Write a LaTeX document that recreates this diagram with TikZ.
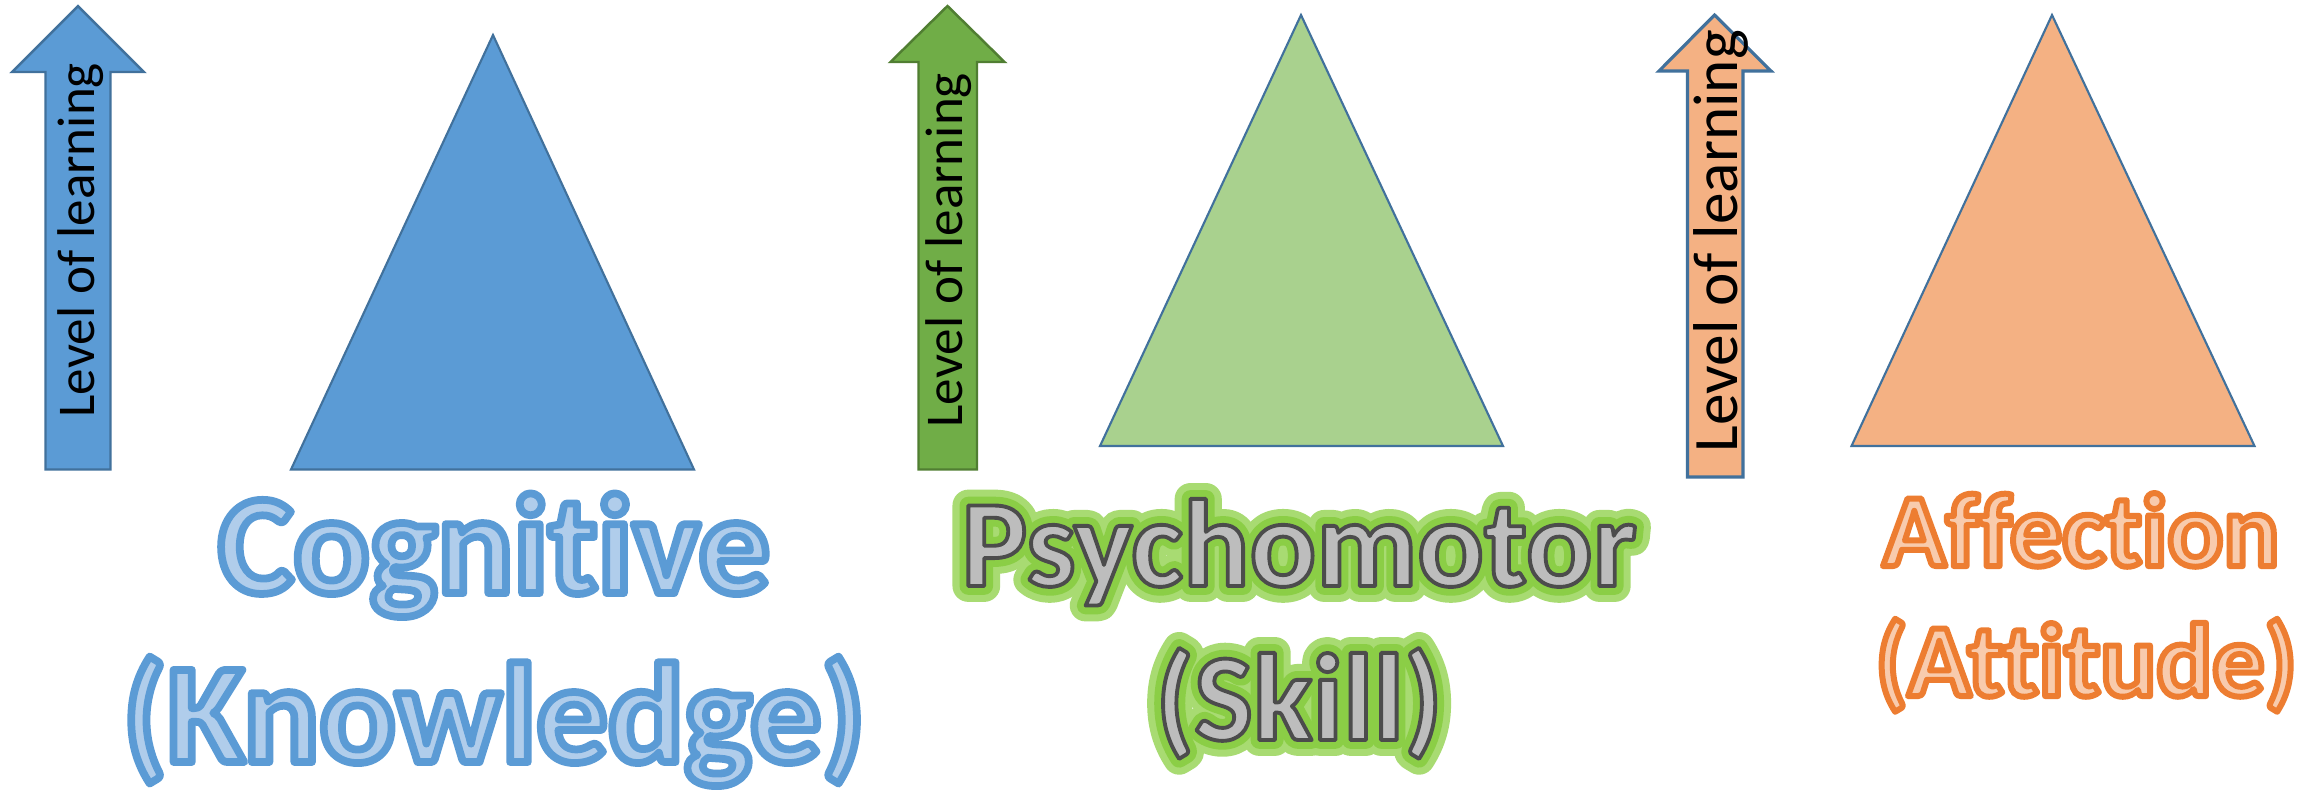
\documentclass[tikz,border=0pt]{standalone}
\usepackage{fontspec}
\setmainfont{Carlito}[Ligatures={NoCommon}]
\definecolor{cblue}{HTML}{5B9BD5}
\definecolor{cgreen}{HTML}{A9D18E}
\definecolor{corange}{HTML}{F4B183}
\definecolor{agreen}{HTML}{70AD47}
\definecolor{agreenline}{HTML}{507E32}
\definecolor{triline}{HTML}{41719C}
\definecolor{cogfill}{HTML}{B0CDEB}
\definecolor{psyfill}{HTML}{BDBDBD}
\definecolor{afffill}{HTML}{F8CBAD}
% text drawn with fill colour #1 and an outline (stroke rgb #2, width #3 bp)
\newcommand{\outlinetext}[4]{{\color{#1}\special{pdf:literal direct #2 RG #3 w 1 j 2 Tr}#4\special{pdf:literal direct 0 Tr}}}
% text drawn as stroke only (for the glow)
\newcommand{\glowtext}[3]{{\special{pdf:literal direct #1 RG #2 w 1 j 1 Tr}#3\special{pdf:literal direct 0 Tr}}}
\begin{document}
\begin{tikzpicture}[x=0.01cm,y=-0.01cm,
  tri/.style={draw=triline, line width=0.6pt, line join=miter},
  arrowshape/.style={line width=0.7pt, line join=miter},
  lvl/.style={rotate=90, anchor=base west, inner sep=0pt, text=black},
  lab/.style={anchor=base, inner sep=0pt}]
\useasboundingbox (0,0) rectangle (2315,793);
\fill[white] (0,0) rectangle (2315,793);

% triangles
\draw[tri, fill=cblue]   (493,35)   -- (694,469.5)  -- (291,469.5)  -- cycle;
\draw[tri, fill=cgreen]  (1301,15)  -- (1503,446)   -- (1100,446)   -- cycle;
\draw[tri, fill=corange] (2052,15)  -- (2254.5,446) -- (1851.5,446) -- cycle;

% arrows
\draw[arrowshape, draw=triline, fill=cblue]
  (78,6) -- (144,72) -- (110.5,72) -- (110.5,469.5) -- (45.5,469.5) -- (45.5,72) -- (12,72) -- cycle;
\draw[arrowshape, draw=agreenline, fill=agreen]
  (947.5,6) -- (1004.5,62) -- (977,62) -- (977,469.5) -- (918.5,469.5) -- (918.5,62) -- (890.5,62) -- cycle;
\draw[arrowshape, draw=triline, fill=corange, line width=0.9pt]
  (1714.5,15) -- (1771,71) -- (1743,71) -- (1743,477) -- (1687.5,477) -- (1687.5,71) -- (1659,71) -- cycle;

% arrow texts
\node[lvl, font=\fontsize{15.1}{18}\selectfont] (lv1) at (94,418)  {Level of learning};
\node[lvl, font=\fontsize{15.1}{18}\selectfont] (lv2) at (962,428) {Level of learning};
\node[lvl, font=\fontsize{18}{22}\selectfont]   (lv3) at (1737,453) {Level of learning};

% labels
\node[lab, font=\bfseries\fontsize{40.4}{48}\selectfont] (cog1) at (494,593)
  {\outlinetext{cogfill}{0.357 0.608 0.835}{2.2}{Cognitive}};
\node[lab, font=\bfseries\fontsize{40.4}{48}\selectfont] (cog2) at (494,762)
  {\outlinetext{cogfill}{0.357 0.608 0.835}{2.2}{(Knowledge)}};

\node[lab, font=\bfseries\fontsize{35.3}{42}\selectfont] (psyglow1) at (1299,586)
  {\glowtext{0.659 0.859 0.447}{9}{Psychomotor}};
\node[lab, font=\bfseries\fontsize{35.3}{42}\selectfont] (psyglow2) at (1299,740)
  {\glowtext{0.659 0.859 0.447}{9}{(Skill)}};
\node[lab, font=\bfseries\fontsize{35.3}{42}\selectfont] (psyglow3) at (1299,586)
  {\glowtext{0.545 0.808 0.275}{5}{Psychomotor}};
\node[lab, font=\bfseries\fontsize{35.3}{42}\selectfont] (psyglow4) at (1299,740)
  {\glowtext{0.545 0.808 0.275}{5}{(Skill)}};
\node[lab, font=\bfseries\fontsize{35.3}{42}\selectfont] (psy1) at (1299,586)
  {\outlinetext{psyfill}{0.30 0.30 0.30}{1.1}{Psychomotor}};
\node[lab, font=\bfseries\fontsize{35.3}{42}\selectfont] (psy2) at (1299,740)
  {\outlinetext{psyfill}{0.30 0.30 0.30}{1.1}{(Skill)}};

\node[lab, font=\bfseries\fontsize{29.6}{35}\selectfont] (aff1) at (2081,566)
  {\outlinetext{afffill}{0.929 0.490 0.192}{1.7}{Affection}};
\node[lab, font=\bfseries\fontsize{29.6}{35}\selectfont] (aff2) at (2086,696)
  {\outlinetext{afffill}{0.929 0.490 0.192}{1.7}{(Attitude)}};
\end{tikzpicture}
\end{document}
